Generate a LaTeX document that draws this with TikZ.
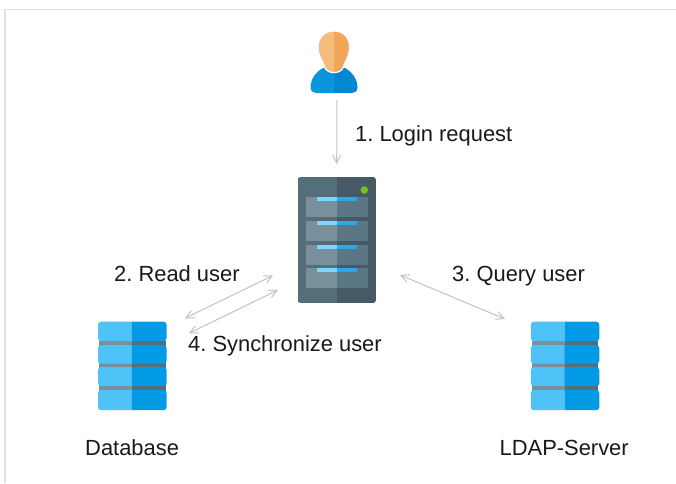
\documentclass[tikz,border=0pt]{standalone}
\usepackage{fontspec}
\setmainfont{Liberation Sans}
\usetikzlibrary{arrows.meta}
\definecolor{frameline}{HTML}{E2E2E2}
\definecolor{arrowline}{HTML}{BFC3C7}
\definecolor{dbleft}{HTML}{4FC3F7}
\definecolor{dbright}{HTML}{039BE5}
\definecolor{dbgapl}{HTML}{78909C}
\definecolor{dbgapr}{HTML}{546E7A}
\definecolor{srvleft}{HTML}{546E7A}
\definecolor{srvright}{HTML}{455A64}
\definecolor{slotleft}{HTML}{78909C}
\definecolor{slotright}{HTML}{5B7684}
\definecolor{barleft}{HTML}{81D4FA}
\definecolor{barright}{HTML}{29A8EC}
\definecolor{ledgreen}{HTML}{76C025}
\definecolor{skinl}{HTML}{F6BC7C}
\definecolor{skinr}{HTML}{F2A65A}
\definecolor{shirtl}{HTML}{0A96DC}
\definecolor{shirtr}{HTML}{0288D1}
\tikzset{
  iconbox/.style={inner sep=0pt,outer sep=0pt,minimum width=#1},
  lbl/.style={anchor=base west,inner sep=0pt,font=\fontsize{21.9}{26}\selectfont,text=black!90},
  link/.style={<->,arrowline,line width=1pt},
}
% one database icon, origin at its top left corner
\newcommand{\dbstack}{
  \fill[dbgapl] (1,19) rectangle (33.8,69);
  \fill[dbgapr] (33.8,19) rectangle (67.5,69);
  \foreach \y/\h in {0/19.5,23.5/18.5,45.5/19,68.5/20} {
    \begin{scope}
      \clip (0,\y) rectangle (33.8,\y+\h);
      \fill[dbleft,rounded corners=3] (0,\y) rectangle (68.5,\y+\h);
    \end{scope}
    \begin{scope}
      \clip (33.8,\y) rectangle (68.5,\y+\h);
      \fill[dbright,rounded corners=3] (0,\y) rectangle (68.5,\y+\h);
    \end{scope}
  }
}
\newcommand{\bodypath}{(310.5,87) .. controls (311,78) and (316,72) .. (323,68) -- (345,68) .. controls (352,72) and (357,78) .. (357.5,87) .. controls (357.5,91) and (355,93) .. (352,93) -- (316,93) .. controls (313,93) and (310.5,91) .. (310.5,87) -- cycle}
\newcommand{\headpath}{(334,31) .. controls (323,31) and (318,39) .. (318,47) .. controls (318,56) and (322,60) .. (324,65) .. controls (325,69) and (327,72.5) .. (334,72.5) .. controls (341,72.5) and (343,69) .. (344,65) .. controls (346,60) and (349.5,56) .. (349.5,47) .. controls (349.5,39) and (345,31) .. (334,31) -- cycle}
\begin{document}
\begin{tikzpicture}[x=1pt,y=-1pt]
  \frenchspacing
  \useasboundingbox (0,0) rectangle (676,483);
  \fill[white] (0,0) rectangle (676,483);
  \draw[frameline,line width=1.5pt] (5,483) -- (5,9.5) -- (676,9.5);

  % user
  \begin{scope}
    \clip (300,25) rectangle (334,100);
    \fill[shirtl] \bodypath;
    \fill[skinl,draw=white,line width=1.2pt] \headpath;
  \end{scope}
  \begin{scope}
    \clip (334,25) rectangle (370,100);
    \fill[shirtr] \bodypath;
    \fill[skinr,draw=white,line width=1.2pt] \headpath;
  \end{scope}
  \node[iconbox=48pt,minimum height=62pt] (user) at (334,62) {};

  % server
  \begin{scope}
    \clip[rounded corners=3] (297.5,177) -- (376,177) -- (376,303) -- (297.5,303) -- cycle;
    \fill[srvleft] (297.5,177) rectangle (336.7,303);
    \fill[srvright] (336.7,177) rectangle (376,303);
  \end{scope}
  \foreach \y in {197,221,245,268} {
    \fill[slotleft] (305.5,\y) rectangle (336.7,\y+20);
    \fill[slotright] (336.7,\y) rectangle (368,\y+20);
    \fill[barleft] (317,\y) rectangle (336.7,\y+4);
    \fill[barright] (336.7,\y) rectangle (357,\y+4);
  }
  \fill[ledgreen] (364.3,190) circle(3.8);
  \node[iconbox=78.5pt,minimum height=126pt] (server) at (336.7,240) {};

  % databases
  \begin{scope}[shift={(98,321.7)}]
    \dbstack
  \end{scope}
  \begin{scope}[shift={(530.8,321.7)}]
    \dbstack
  \end{scope}
  \node[iconbox=68.5pt,minimum height=88.5pt] (db) at (132.2,366) {};
  \node[iconbox=68.5pt,minimum height=88.5pt] (ldap) at (565,366) {};

  % connectors
  \coordinate (userout) at ([xshift=3pt,yshift=-7pt]user.south);
  \coordinate (srvin) at ([yshift=13pt]server.north);
  \coordinate (readsrv) at ([xshift=-24.5pt,yshift=27.5pt]server.south west);
  \coordinate (readdb) at ([xshift=18.5pt,yshift=3.5pt]db.north east);
  \coordinate (syncsrv) at ([xshift=-19.5pt,yshift=13pt]server.south west);
  \coordinate (syncdb) at ([xshift=22.5pt,yshift=-11.5pt]db.north east);
  \coordinate (querysrv) at ([xshift=24pt,yshift=28pt]server.south east);
  \coordinate (queryldap) at ([xshift=-25.7pt,yshift=2.7pt]ldap.north west);
  \draw[->,arrowline,line width=1pt,>={Straight Barb[length=8pt,width=8pt]}] (userout) -- (srvin);
  \draw[link,>={Straight Barb[length=8pt,width=8pt]}] (readsrv) -- (readdb);
  \draw[link,>={Straight Barb[length=8pt,width=8pt]}] (syncsrv) -- (syncdb);
  \draw[link,>={Straight Barb[length=8pt,width=8pt]}] (querysrv) -- (queryldap);

  % labels
  \node[lbl] (login) at (355,141) {1. Login request};
  \node[lbl] (read) at (114,281) {2. Read user};
  \node[lbl] (query) at (452,281) {3. Query user};
  \node[lbl] (sync) at (188,351) {4. Synchronize user};
  \node[lbl] (dbname) at (85,455) {Database};
  \node[lbl] (ldapname) at (499.5,455) {LDAP-Server};
\end{tikzpicture}
\end{document}
